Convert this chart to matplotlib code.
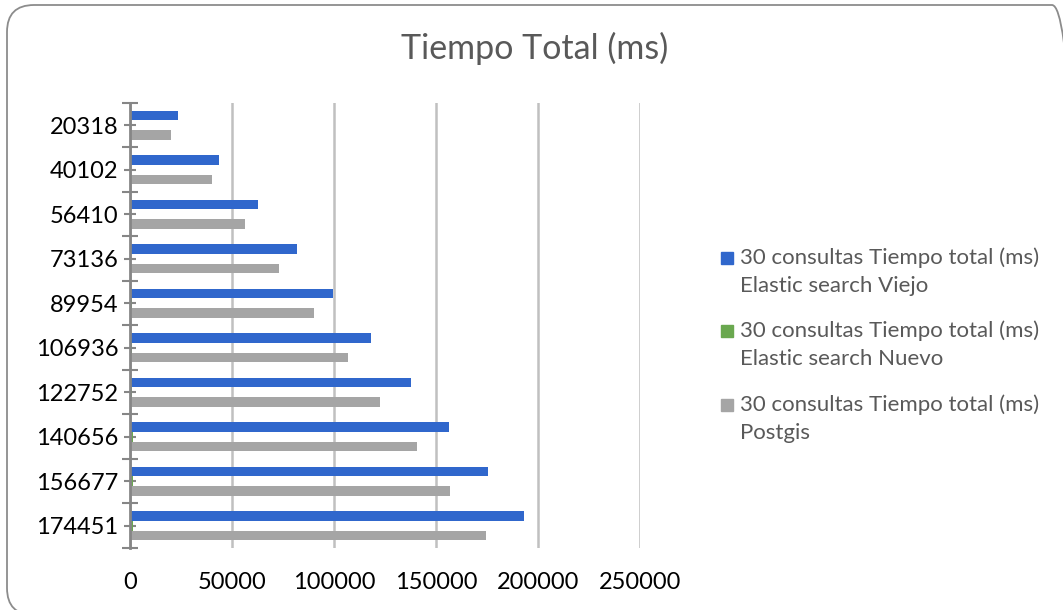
import numpy as np
import matplotlib
matplotlib.use("Agg")
import matplotlib.pyplot as plt
from matplotlib.patches import FancyBboxPatch, Rectangle
from matplotlib.transforms import Affine2D

# data
categories = ["20318", "40102", "56410", "73136", "89954",
              "106936", "122752", "140656", "156677", "174451"]
elastic_viejo = [23400, 43600, 62600, 81700, 99500, 118100, 137600, 156500, 175600, 193100]
elastic_nuevo = [180, 340, 470, 620, 790, 930, 1080, 1260, 1390, 1540]
postgis = [20318, 40102, 56410, 73136, 89954, 106936, 122752, 140656, 156677, 174451]

series_labels = ["30 consultas Tiempo total (ms)\nElastic search Viejo",
                 "30 consultas Tiempo total (ms)\nElastic search Nuevo",
                 "30 consultas Tiempo total (ms)\nPostgis"]
colors = ["#3067CC", "#6AA84F", "#A5A5A5"]

plt.rcParams['font.family'] = ['Lato', 'DejaVu Sans']

W, H = 1063, 610
fig = plt.figure(figsize=(W / 100, H / 100), dpi=100)

# rounded frame around the chart, in pixels from the figure's lower left
px = Affine2D().scale(1 / 100) + fig.dpi_scale_trans
frame = FancyBboxPatch((7, H - 615), 1072, 610,
                       boxstyle="round,pad=0,rounding_size=27",
                       transform=px, fill=False,
                       edgecolor="#8C8C8C", linewidth=1.3)
fig.patches.append(frame)

ax = fig.add_axes([130 / W, (H - 548) / H, 510 / W, 445 / H])

y = np.arange(len(categories))
h = 0.22
ax.barh(y - h, elastic_viejo, height=h, color=colors[0], zorder=3)
ax.barh(y, elastic_nuevo, height=h, color=colors[1], zorder=3)
ax.barh(y + h, postgis, height=h, color=colors[2], zorder=3)

ax.set_xlim(0, 250000)
ax.set_ylim(len(categories) - 0.5, -0.5)
ax.set_xticks(np.arange(0, 250001, 50000))
ax.xaxis.grid(True, color="#C0C0C0", linewidth=1.8, zorder=0)
ax.set_axisbelow(True)

# category ticks at group boundaries (major) and centres (minor)
ax.set_yticks(np.arange(-0.5, len(categories), 1.0))
ax.set_yticklabels([])
ax.set_yticks(y, minor=True)
ax.set_yticklabels(categories, minor=True)
ax.tick_params(axis="y", which="major", direction="inout", length=12,
               width=1.5, color="#868686")
ax.tick_params(axis="y", which="minor", direction="inout", length=9,
               width=1.5, color="#868686", labelsize=17, labelcolor="black", pad=4)
ax.tick_params(axis="x", length=0, labelsize=17, labelcolor="black", pad=17)

for s in ["top", "right", "bottom"]:
    ax.spines[s].set_visible(False)
ax.spines["left"].set_color("#868686")
ax.spines["left"].set_linewidth(2)
ax.spines["left"].set_zorder(4)

fig.text(535 / W, 1 - 48 / H, "Tiempo Total (ms)", ha="center", va="center",
         fontsize=24.5, color="#595959")

# legend
leg_y = [258, 331, 405]
for lab, col, yy in zip(series_labels, colors, leg_y):
    fig.patches.append(Rectangle((721 / W, 1 - (yy + 6) / H), 12 / W, 12 / H,
                                 transform=fig.transFigure, color=col))
    fig.text(740 / W, 1 - (yy - 11) / H, lab, ha="left", va="top",
             fontsize=16, color="#595959", linespacing=1.5)

fig.savefig("out.png", dpi=100)
